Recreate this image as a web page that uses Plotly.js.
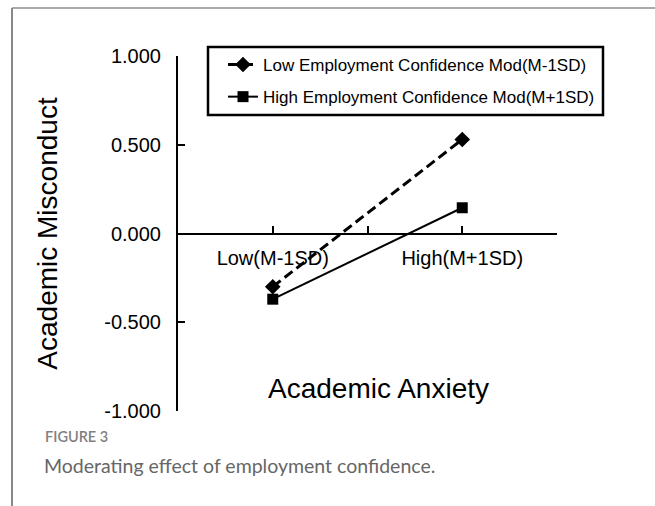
<!DOCTYPE html>
<html>
<head>
<meta charset="utf-8">
<script src="https://cdn.plot.ly/plotly-3.0.1.min.js"></script>
<style>html,body{margin:0;padding:0;background:#fff;}#chart{width:655px;height:506px;}</style>
</head>
<body>
<div id="chart"></div>
<script>
const categories = ["Low(M-1SD)", "High(M+1SD)"];
const categoryPositions = [1, 3];
const lowConfidence = [-0.30, 0.53];
const highConfidence = [-0.37, 0.145];
const seriesNames = ["Low Employment Confidence Mod(M-1SD)", "High Employment Confidence Mod(M+1SD)"];
const yTicks = [-1, -0.5, 0, 0.5, 1];
const yTickLabels = yTicks.map(v => v.toFixed(3));

const F = '"Liberation Sans", Arial, sans-serif';
const CF = 'Lato, "Open Sans", sans-serif';

const traces = [
  {x: categoryPositions, y: lowConfidence, name: seriesNames[0], legendgroup: 'a', mode: 'lines+markers', type: 'scatter',
   line: {color: '#000', width: 3, dash: '10px,5px'}, marker: {symbol: 'diamond', size: 12, color: '#000'}},
  {x: categoryPositions, y: highConfidence, name: seriesNames[1], legendgroup: 'b', mode: 'lines+markers', type: 'scatter',
   line: {color: '#000', width: 2}, marker: {symbol: 'square', size: 11, color: '#000'}}
];

const L = 178, R = 557, T = 56, B = 411, W = 655, H = 506;
const px = v => (v - L) / (R - L);
const py = v => (B - v) / (B - T);

const layout = {
  width: W, height: H,
  margin: {l: L, r: W - R, t: T, b: H - B, pad: 0},
  paper_bgcolor: '#fff', plot_bgcolor: '#fff',
  font: {family: F, color: '#000'},
  showlegend: true,
  legend: {x: px(223), y: py(47), xanchor: 'left', yanchor: 'top', borderwidth: 0,
           bgcolor: 'rgba(0,0,0,0)', font: {family: F, size: 17, color: '#000'}, tracegroupgap: 7},
  xaxis: {range: [0, 4], tickvals: [1, 2, 3, 4], ticktext: [categories[0], '', categories[1], ''],
          anchor: 'free', position: 0.5, showline: true, linecolor: '#000', linewidth: 2,
          ticks: 'inside', ticklen: 7, tickwidth: 2, tickcolor: '#000', showgrid: false, zeroline: false,
          tickfont: {family: F, size: 20, color: '#000'}, ticklabelstandoff: 6, fixedrange: true},
  yaxis: {range: [-1, 1], tickvals: yTicks, ticktext: yTickLabels, showline: true, linecolor: '#000', linewidth: 2,
          ticks: 'inside', ticklen: 7, tickwidth: 2, tickcolor: '#000', showgrid: false, zeroline: false,
          tickfont: {family: F, size: 20, color: '#000'}, ticklabelstandoff: 11,
          title: {text: 'Academic Misconduct', font: {family: F, size: 28, color: '#000'}, standoff: 38}},
  annotations: [
    {text: 'Academic Anxiety', xref: 'paper', yref: 'paper', x: px(378), y: py(388), xanchor: 'center', yanchor: 'middle',
     showarrow: false, font: {family: F, size: 28, color: '#000'}},
    {text: 'FIGURE 3', xref: 'paper', yref: 'paper', x: px(43), y: py(437), xanchor: 'left', yanchor: 'middle',
     showarrow: false, font: {family: CF, size: 14.5, color: '#808080', weight: 600}},
    {text: 'Moderating effect of employment confidence.', xref: 'paper', yref: 'paper', x: px(42), y: py(465),
     xanchor: 'left', yanchor: 'middle', showarrow: false, font: {family: CF, size: 19.5, color: '#666'}}
  ],
  shapes: [
    {type: 'line', xref: 'paper', yref: 'paper', x0: px(12), x1: px(660), y0: py(8), y1: py(8), line: {color: '#aaa', width: 2}},
    {type: 'line', xref: 'paper', yref: 'paper', x0: px(12), x1: px(12), y0: py(8), y1: py(510), line: {color: '#888', width: 2}},
    {type: 'rect', xref: 'paper', yref: 'paper', x0: px(208), x1: px(603), y0: py(47), y1: py(115), line: {color: '#000', width: 2.5}, fillcolor: 'rgba(0,0,0,0)'}
  ]
};

Plotly.newPlot('chart', traces, layout, {displayModeBar: false, staticPlot: true});
</script>
</body>
</html>
